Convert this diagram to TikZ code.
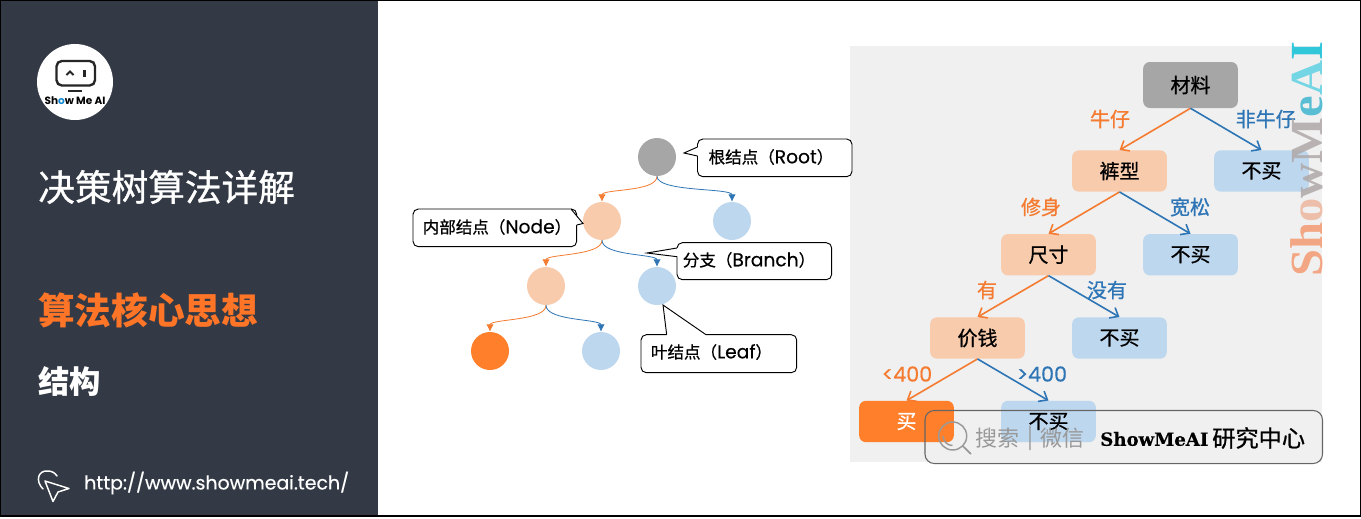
\documentclass[tikz,border=0pt]{standalone}
\usepackage{fontspec}
\usetikzlibrary{arrows.meta}
\newfontfamily\cjk{Noto Sans CJK SC}
\newfontfamily\cjkm[FakeBold=0.8]{Noto Sans CJK SC}
\newfontfamily\latf{Poppins}
\newfontfamily\latm[FakeBold=0.4]{Poppins}
\newfontfamily\sfl{Liberation Serif}
\newfontfamily\slab[FakeBold=0.4]{DejaVu Serif}
\newcommand{\sz}[1]{\fontsize{#1}{#1}\selectfont}
\definecolor{panel}{HTML}{333A45}
\definecolor{accent}{HTML}{FF7527}
\definecolor{oline}{HTML}{F47B30}
\definecolor{bline}{HTML}{2E75B6}
\definecolor{peach}{HTML}{F8CBAD}
\definecolor{sky}{HTML}{BDD7EE}
\definecolor{org}{HTML}{FF7F2A}
\definecolor{gry}{HTML}{A6A6A6}
\tikzset{
  ttl/.style={anchor=west,inner sep=0,text=white,font=\cjk},
  dot/.style={circle,minimum size=28.5pt,inner sep=0},
  tbox/.style={rounded corners=5pt,minimum width=71pt,minimum height=31pt,inner sep=0,font=\cjkm\sz{15}},
  call/.style={draw=black,fill=white,line width=0.7pt,rounded corners=4pt},
  tipl/.style={draw=black,line width=0.7pt,line join=miter},
  ctxt/.style={anchor=center,inner sep=0,font=\cjkm\sz{12.4}},
  wavo/.style={draw=oline,line width=0.6pt,-{Latex[length=5.5pt,width=5.5pt]}},
  wavb/.style={draw=bline,line width=0.6pt,-{Latex[length=5.5pt,width=5.5pt]}},
  edgeo/.style={draw=oline,line width=1.2pt,-{Straight Barb[length=5.5pt,width=9pt]}},
  edgeb/.style={draw=bline,line width=1.2pt,-{Straight Barb[length=5.5pt,width=9pt]}},
  lab/.style={inner sep=0,font=\cjkm\sz{15}},
}
\begin{document}
\begin{tikzpicture}[x=0.75pt,y=-0.75pt]
\useasboundingbox (0,0) rectangle (1361,518);
\fill[white] (0,0) rectangle (1361,518);
\fill[panel] (0,0) rectangle (378,516);
% logo
\fill[white] (75,82) circle (38);
\draw[black!85,line width=1.8pt,rounded corners=4pt] (56.5,61) rectangle (95,85.5);
\draw[black!85,line width=1.4pt] (68,91) -- (82,91);
\draw[black!85,line width=1.5pt] (66.5,75) -- (70,71.5) -- (73.5,75);
\draw[black!85,line width=1.7pt] (84.5,70) -- (84.5,76.5);
\node[inner sep=0,font=\latf\bfseries\sz{7.9}] (logo) at (75,100.5) {Sh{\color{cyan!70!blue}o}w Me AI};
% titles
\node[ttl,font=\cjkm] (t1) at (38,187) {\sz{27.5}决策树算法详解};
\node[ttl,text=accent] (t2) at (38,310) {\sz{27.5}\bfseries 算法核心思想};
\node[ttl] (t3) at (38,382) {\sz{23.5}\bfseries 结构};
\node[ttl,font=\latm] (url) at (84,483) {\sz{14.2}http://www.showmeai.tech/};
% cursor icon
\draw[white,line width=1.1pt,line cap=round] (43,489) .. controls (35,481) and (38,470) .. (48,471) .. controls (52,471) and (55,473) .. (57,476);
\draw[white,line width=1.1pt,line join=round] (45,481) -- (69,488.5) -- (58,492) -- (53,501.5) -- cycle;
% grey panel
\fill[black!6] (850,46) rectangle (1322,462);
% small tree
\node[dot,fill=gry] (r) at (657,157) {};
\node[dot,fill=peach] (a) at (602,221) {};
\node[dot,fill=sky] (b) at (732,221) {};
\node[dot,fill=peach] (c) at (546,286) {};
\node[dot,fill=sky] (d) at (657,286) {};
\node[dot,fill=org] (e) at (490,351) {};
\node[dot,fill=sky] (f) at (601,351) {};
\draw[wavo] (r.south) .. controls +(0,16) and +(0,-13) .. (a.north);
\draw[wavb] (r.south) .. controls +(0,16) and +(0,-14) .. (b.north);
\draw[wavo] (a.south) .. controls +(0,16) and +(0,-13) .. (c.north);
\draw[wavb] (a.south) .. controls +(0,16) and +(0,-13) .. (d.north);
\draw[wavo] (c.south) .. controls +(0,16) and +(0,-13) .. (e.north);
\draw[wavb] (c.south) .. controls +(0,16) and +(0,-13) .. (f.north);
% callouts
\draw[call] (697.5,139) rectangle (852,176.7);
\fill[white] (697.5,147) -- (684,153) -- (697.5,156) -- (700,156) -- (700,147) -- cycle;
\draw[tipl] (697.5,147) -- (684,153) -- (697.5,156);
\node[ctxt] (cr) at (771,157) {根结点（{\latm\sz{14}Root}）};
\draw[call] (413,209) rectangle (576.7,246.7);
\fill[white] (571,209.6) -- (583,223.5) -- (576.7,225) -- (570,225) -- (570,209.6) -- cycle;
\draw[tipl] (571,209) -- (583,223.5) -- (576.7,225);
\node[ctxt] (cn) at (497,227) {内部结点（{\latm\sz{14}Node}）};
\draw[call] (677,242.7) rectangle (831.7,279.7);
\fill[white] (677,248) -- (647,253) -- (677,256.7) -- (679,256.7) -- (679,248) -- cycle;
\draw[tipl] (677,248) -- (647,253) -- (677,256.7);
\node[ctxt] (cb) at (749,260) {分支（{\latm\sz{14}Branch}）};
\draw[call] (641,334.7) rectangle (796.7,372.7);
\fill[white] (666.7,334.7) -- (663,305) -- (706,334.7) -- (706,337) -- (666.7,337) -- cycle;
\draw[tipl] (666.7,334.7) -- (663,305) -- (706,334.7);
\node[ctxt] (cl) at (711.5,352) {叶结点（{\latm\sz{14}Leaf}）};
% big tree
\node[tbox,fill=gry,minimum height=34.5pt] (n1) at (1190.5,85) {材料};
\node[tbox,fill=peach] (n2) at (1119.5,171) {裤型};
\node[tbox,fill=sky] (n3) at (1261.5,171) {不买};
\node[tbox,fill=peach] (n4) at (1048.5,254.7) {尺寸};
\node[tbox,fill=sky] (n5) at (1190.5,254.7) {不买};
\node[tbox,fill=peach] (n6) at (977.5,338) {价钱};
\node[tbox,fill=sky] (n7) at (1119.5,338) {不买};
\node[tbox,fill=org,text=white] (n8) at (906.5,421.5) {买};
\node[tbox,fill=sky] (n9) at (1048.5,421.5) {不买};
\draw[edgeo] (n1.south) -- (n2.north);
\draw[edgeb] (n1.south) -- (n3.north);
\draw[edgeo] (n2.south) -- (n4.north);
\draw[edgeb] (n2.south) -- (n5.north);
\draw[edgeo] (n4.south) -- (n6.north);
\draw[edgeb] (n4.south) -- (n7.north);
\draw[edgeo] (n6.south) -- (n8.north);
\draw[edgeb] (n6.south) -- (n9.north);
\node[lab,text=oline] (l1) at (1110,119) {牛仔};
\node[lab,text=bline] (l2) at (1265.7,119) {非牛仔};
\node[lab,text=oline] (l3) at (1041,207) {修身};
\node[lab,text=bline] (l4) at (1190,207) {宽松};
\node[lab,text=oline] (l5) at (987,290) {有};
\node[lab,text=bline] (l6) at (1107,290) {没有};
\node[lab,text=oline,font=\latm\sz{15.5}] (l7) at (907,374) {<400};
\node[lab,text=bline,font=\latm\sz{15.5}] (l8) at (1042,374) {>400};
% watermark
\node[rotate=90,xscale=1.055,inner sep=0,font=\sfl\bfseries\sz{34.5},opacity=.85] (wm) at (1307,159) {{\color[HTML]{F49A70}Sh}{\color[HTML]{EDB79E}o}{\color[HTML]{B0A8A8}wM}{\color[HTML]{3FB5CF}e}{\color[HTML]{5FD2E2}A}{\color[HTML]{10C0D8}I}};
% search box
\draw[draw=black!60,line width=0.8pt,rounded corners=7pt] (925,410.5) rectangle (1322.5,463.5);
\draw[black!40,line width=1.1pt] (952.7,436) circle (14);
\draw[black!40,line width=1.1pt] (943,436) arc (180:90:9.5);
\draw[black!40,line width=1.3pt] (962.7,446) -- (971,454);
\node[anchor=west,inner sep=0,text=black!40,font=\cjk\sz{16.5}] (s1) at (975,438) {搜索};
\node[anchor=center,inner sep=0,text=black!40,font=\cjk\sz{16.5}] (s2) at (1030,438) {|};
\node[anchor=west,inner sep=0,text=black!40,font=\cjk\sz{16.5}] (s3) at (1040,438) {微信};
\node[anchor=west,inner sep=0,font=\slab\bfseries\sz{13.6}] (s4) at (1100,439) {ShowMeAI};
\node[anchor=west,inner sep=0,font=\cjkm\sz{17.4}] (s5) at (1212,438) {研究中心};
% frame
\draw[black,line width=0.8pt] (0.5,0.5) rectangle (1360.5,516);
\end{tikzpicture}
\end{document}
